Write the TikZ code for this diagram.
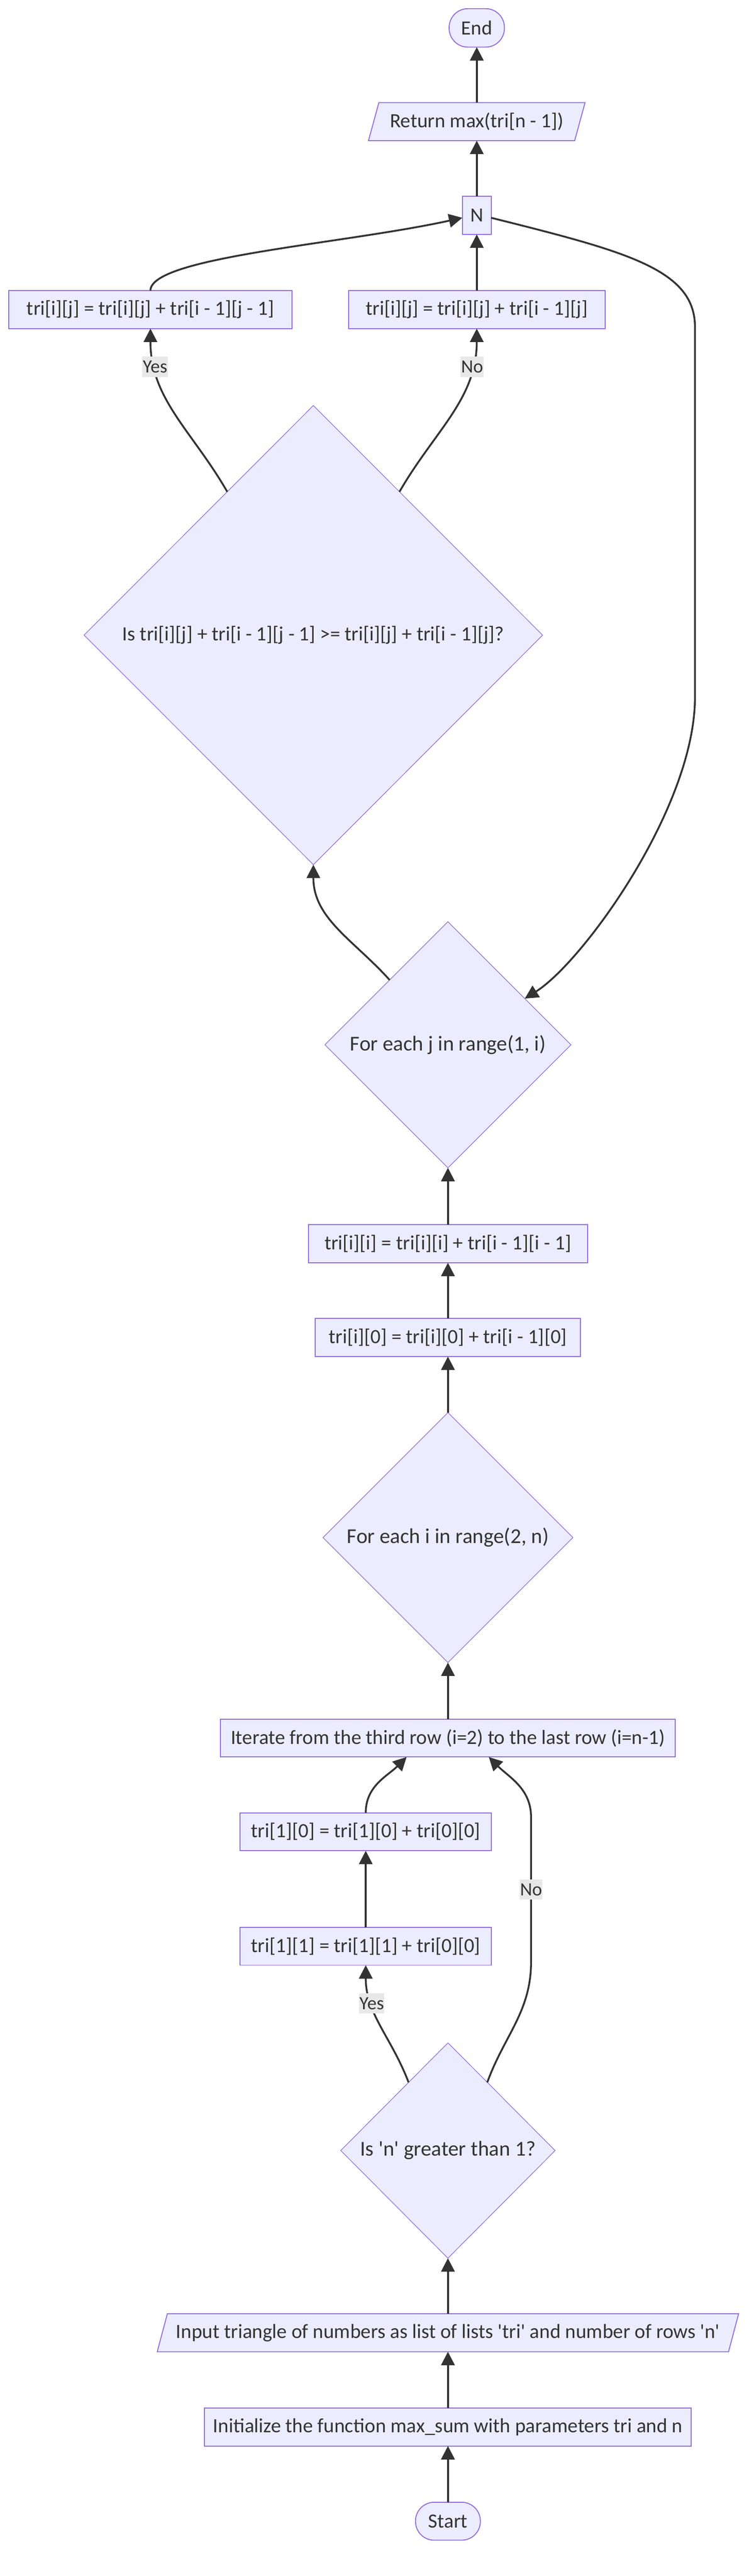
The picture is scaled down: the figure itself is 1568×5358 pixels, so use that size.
\documentclass[tikz,border=0pt]{standalone}
\usepackage{fontspec}
\setmainfont{Carlito}
\usepackage{tikz}
\usetikzlibrary{positioning}
\usetikzlibrary{shapes,shapes.geometric,arrows.meta,calc}

\definecolor{nodefill}{HTML}{ECECFF}
\definecolor{nodeline}{HTML}{9370DB}
\definecolor{edgeline}{HTML}{333333}
\definecolor{lblback}{HTML}{E8E8E8}

\newcommand{\boxfont}{\fontsize{42}{50}\selectfont}
\newcommand{\decfont}{\fontsize{44}{52}\selectfont}
\newcommand{\lblfont}{\fontsize{39}{45}\selectfont}
\newcommand{\sq}{\textquotesingle}

\begin{document}
\begin{tikzpicture}[x=1pt,y=-1pt,on grid,
    >={Triangle[length=28pt,width=28pt]},
    every node/.style={outer sep=0pt,text=edgeline},
    proc/.style={rectangle,draw=nodeline,fill=nodefill,line width=2pt,minimum height=79pt,inner xsep=18pt,font=\boxfont},
    term/.style={proc,rounded corners=39pt},
    io/.style={proc,trapezium,trapezium left angle=64,trapezium right angle=116,trapezium stretches=true},
    dec/.style={diamond,draw=nodeline,fill=nodefill,line width=1.3pt,inner sep=0pt,font=\decfont},
    lbl/.style={fill=lblback,inner xsep=1pt,inner ysep=0pt,minimum height=42pt,font=\lblfont},
    flow/.style={->,color=edgeline,line width=3.8pt}]
        \useasboundingbox (0,0) rectangle (1568,5358);

        \node[term,minimum width=135pt] (start) at (932,5244) {Start};
        \node[proc,minimum width=1010pt] (init) [above=196pt of start] {Initialize the function max\_sum with parameters tri and n};
        \node[io,minimum width=1200pt] (input) [above=196pt of init] {Input triangle of numbers as list of lists \sq tri\sq{} and number of rows \sq n\sq};
        \node[dec,minimum width=446pt,minimum height=448pt] (ngt1) [above=379pt of input] {Is \sq n\sq{} greater than 1?};
        \node[proc,minimum width=523pt] (t11) [above left=425pt and 171pt of ngt1] {tri[1][1] = tri[1][1] + tri[0][0]};
        \node[proc,minimum width=523pt] (t10) [above=238pt of t11] {tri[1][0] = tri[1][0] + tri[0][0]};
        \node[proc,minimum width=946pt] (iter) [above=858pt of ngt1] {Iterate from the third row (i=2) to the last row (i=n-1)};
        \node[dec,minimum width=520pt,minimum height=520pt] (fori) [above=417pt of iter] {For each i in range(2, n)};
        \node[proc,minimum width=552pt] (ti0) [above=416pt of fori] {tri[i][0] = tri[i][0] + tri[i - 1][0]};
        \node[proc,minimum width=581pt] (tii) [above=195pt of ti0] {tri[i][i] = tri[i][i] + tri[i - 1][i - 1]};
        \node[dec,minimum width=512pt,minimum height=512pt] (forj) [above=414pt of tii] {For each j in range(1, i)};
        \node[dec,minimum width=954pt,minimum height=955pt,font=\fontsize{42}{50}\selectfont] (cond) [above left=852pt and 280pt of forj] {Is tri[i][j] + tri[i - 1][j - 1] >= tri[i][j] + tri[i - 1][j]?};
        \node[proc,minimum width=590pt] (addl) [above left=677pt and 339pt of cond] {tri[i][j] = tri[i][j] + tri[i - 1][j - 1]};
        \node[proc,minimum width=534pt] (addr) [above right=677pt and 340pt of cond] {tri[i][j] = tri[i][j] + tri[i - 1][j]};
        \node[proc,minimum width=60pt,inner xsep=0pt] (n) [above=196pt of addr] {N};
        \node[io,minimum width=451pt] (ret) [above=195pt of n] {Return max(tri[n - 1])};
        \node[term,minimum width=115pt,minimum height=80pt] (end) [above=195pt of ret] {End};

        \coordinate (nolow) at (1105,4080);
        \coordinate (nohigh) at (1105,3780);
        \coordinate (loopa) at (1446,680);
        \coordinate (loopb) at (1446,1450);

        \path[flow]
        (start) edge (init)
        (init) edge (input)
        (input) edge (ngt1)
        (ngt1.120) edge[out=111,in=-90] node[lbl,pos=0.7] {Yes} (t11.south)
        (t11) edge (t10)
        (t10.north) edge[out=90,in=-135] ([xshift=-86pt]iter.south)
        (iter) edge (fori)
        (fori) edge (ti0)
        (ti0) edge (tii)
        (tii) edge (forj)
        (forj.132) edge[out=132,in=-90] (cond.south)
        (cond.121) edge[out=120,in=-90] node[lbl,pos=0.8] {Yes} (addl.south)
        (cond.59) edge[out=60,in=-90] node[lbl,pos=0.8] {No} (addr.south)
        (addr) edge (n)
        (n) edge (ret)
        (ret) edge (end)
        ;

        \draw[flow] (ngt1.60) to[out=70,in=-90] (nolow) -- node[lbl] {No} (nohigh) to[out=90,in=-45] ([xshift=85pt]iter.south);
        \draw[flow] (addl.north) .. controls +(0,-70) and +(-250,55) .. ([yshift=-5pt]n.west);
        \draw[flow] ([yshift=-5pt]n.east) .. controls +(280,70) and +(0,-120) .. (loopa) -- (loopb) .. controls +(0,230) and +(120,-75) .. (forj.31);

    \end{tikzpicture}
\end{document}
